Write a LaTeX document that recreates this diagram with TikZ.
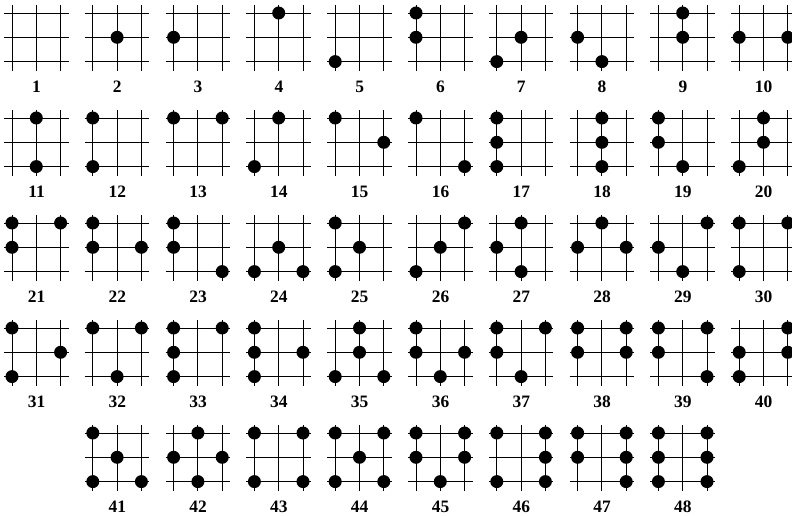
\documentclass[tikz,border=0pt]{standalone}
\usepackage{fontspec}
\setmainfont{Liberation Serif}
\tikzset{
  gridline/.style={line width=0.9bp, black},
  dot/.style={circle, fill=black, inner sep=0pt, minimum size=13bp},
  lab/.style={font=\bfseries\fontsize{17.5}{19}\selectfont, inner sep=0pt}
}
\newcommand\gridframe[3]{%
  \pgfmathsetmacro\cx{12+80.8*#2}%
  \pgfmathsetmacro\cy{13+105*#3}%
  \begin{scope}[shift={(\cx,\cy)}]
    \foreach \k in {0,1,2}{
      \draw[gridline] (-8,\k*24.3) -- (56.6,\k*24.3);
      \draw[gridline] (\k*24.3,-8) -- (\k*24.3,57.6);
    }
    \node[lab] (l#1) at (24.5,74) {#1};
  \end{scope}}
\newcommand\gridcell[4]{%
  \gridframe{#1}{#2}{#3}%
  \begin{scope}[shift={(\cx,\cy)}]
    \foreach \c/\r in {#4}{
      \node[dot] (d#1-\c\r) at (\c*24.3,\r*24.3) {};
    }
  \end{scope}}
\begin{document}
\begin{tikzpicture}[x=1bp,y=-1bp]
\useasboundingbox (0,0) rectangle (792,516);
\clip (0,0) rectangle (792,516);
\gridframe{1}{0}{0}
\gridcell{2}{1}{0}{1/1}
\gridcell{3}{2}{0}{0/1}
\gridcell{4}{3}{0}{1/0}
\gridcell{5}{4}{0}{0/2}
\gridcell{6}{5}{0}{0/0,0/1}
\gridcell{7}{6}{0}{0/2,1/1}
\gridcell{8}{7}{0}{0/1,1/2}
\gridcell{9}{8}{0}{1/0,1/1}
\gridcell{10}{9}{0}{0/1,2/1}
\gridcell{11}{0}{1}{1/0,1/2}
\gridcell{12}{1}{1}{0/0,0/2}
\gridcell{13}{2}{1}{0/0,2/0}
\gridcell{14}{3}{1}{0/2,1/0}
\gridcell{15}{4}{1}{0/0,2/1}
\gridcell{16}{5}{1}{0/0,2/2}
\gridcell{17}{6}{1}{0/0,0/1,0/2}
\gridcell{18}{7}{1}{1/0,1/1,1/2}
\gridcell{19}{8}{1}{0/0,0/1,1/2}
\gridcell{20}{9}{1}{1/0,1/1,0/2}
\gridcell{21}{0}{2}{0/0,2/0,0/1}
\gridcell{22}{1}{2}{0/0,0/1,2/1}
\gridcell{23}{2}{2}{0/0,0/1,2/2}
\gridcell{24}{3}{2}{1/1,0/2,2/2}
\gridcell{25}{4}{2}{0/0,1/1,0/2}
\gridcell{26}{5}{2}{2/0,1/1,0/2}
\gridcell{27}{6}{2}{1/0,0/1,1/2}
\gridcell{28}{7}{2}{1/0,0/1,2/1}
\gridcell{29}{8}{2}{2/0,0/1,1/2}
\gridcell{30}{9}{2}{0/0,2/0,0/2}
\gridcell{31}{0}{3}{0/0,2/1,0/2}
\gridcell{32}{1}{3}{0/0,2/0,1/2}
\gridcell{33}{2}{3}{0/0,2/0,0/1,0/2}
\gridcell{34}{3}{3}{0/0,0/1,2/1,0/2}
\gridcell{35}{4}{3}{1/0,1/1,0/2,2/2}
\gridcell{36}{5}{3}{0/0,0/1,2/1,1/2}
\gridcell{37}{6}{3}{0/0,2/0,0/1,1/2}
\gridcell{38}{7}{3}{0/0,2/0,0/1,2/1}
\gridcell{39}{8}{3}{0/0,2/0,0/1,2/2}
\gridcell{40}{9}{3}{2/0,0/1,2/1,0/2}
\gridcell{41}{1}{4}{0/0,1/1,0/2,2/2}
\gridcell{42}{2}{4}{1/0,0/1,2/1,1/2}
\gridcell{43}{3}{4}{0/0,2/0,0/2,2/2}
\gridcell{44}{4}{4}{0/0,2/0,1/1,0/2,2/2}
\gridcell{45}{5}{4}{0/0,2/0,0/1,2/1,1/2}
\gridcell{46}{6}{4}{0/0,2/0,2/1,0/2,2/2}
\gridcell{47}{7}{4}{0/0,2/0,0/1,2/1,2/2}
\gridcell{48}{8}{4}{0/0,2/0,0/1,2/1,0/2,2/2}
\end{tikzpicture}
\end{document}
